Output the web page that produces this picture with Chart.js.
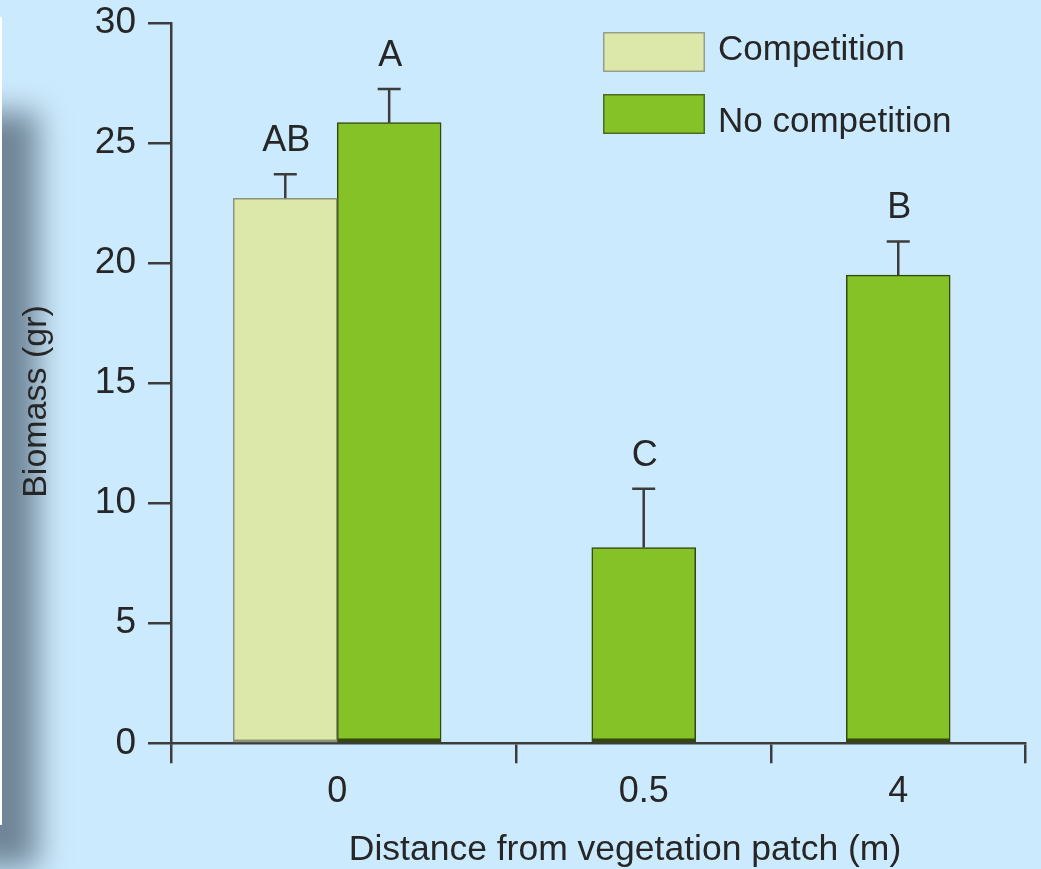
<!DOCTYPE html>
<html>
<head>
<meta charset="utf-8">
<title>Biomass by distance from vegetation patch</title>
<script src="https://cdn.jsdelivr.net/npm/chart.js@4.4.1/dist/chart.umd.min.js"></script>
<style>
  html, body { margin: 0; padding: 0; background: #cceafd; overflow: hidden; }
  #wrap { position: relative; width: 1041px; height: 869px; }
  .shade { position: absolute; left: -80px; top: 112px; width: 118px; height: 755px; background: #6f8597; filter: blur(15px); }
  .panel { position: absolute; left: -20px; top: 17px; width: 22px; height: 808px; background: #ffffff; }
  #chart { position: absolute; left: 0; top: 0; }
</style>
</head>
<body>
<div id="wrap">
  <div class="shade"></div>
  <div class="panel"></div>
  <canvas id="chart" width="1041" height="869"></canvas>
</div>
<script>
// ---- data ----
const categories = ['0', '0.5', '4'];
const competition = [22.7, null, null];
const competitionErr = [1.0, null, null];
const competitionLetters = ['AB', null, null];
const noCompetition = [25.85, 8.15, 19.5];
const noCompetitionErr = [1.4, 2.45, 1.4];
const noCompetitionLetters = ['A', 'C', 'B'];
const yTicks = [0, 5, 10, 15, 20, 25, 30];

// ---- look ----
const FONT = "'Liberation Sans', Arial, Helvetica, sans-serif";
const TEXT = '#262626';
const AXIS = '#3c3c3c';
const seriesStyle = [
  { fill: '#dce8a9', edge: '#8e927a' },
  { fill: '#84c227', edge: '#34470f' }
];

// ---- x layout, in bar widths ----
const EDGE_L = 0.6, GAP = 1.45, EDGE_R = 0.72;
const seriesValues = [competition, noCompetition];
const seriesErr = [competitionErr, noCompetitionErr];
const seriesLetters = [competitionLetters, noCompetitionLetters];
const seriesNames = ['Competition', 'No competition'];

const groupSizes = categories.map((_, i) => seriesValues.filter(s => s[i] != null).length);
const groupStart = [];
let cursor = 0;
groupSizes.forEach(n => { groupStart.push(cursor); cursor += n + GAP; });
const xMin = -EDGE_L;
const xMax = cursor - GAP + EDGE_R;
const groupCenters = groupStart.map((s, i) => s + groupSizes[i] / 2);
const boundaries = [xMin];
for (let i = 1; i < groupStart.length; i++) boundaries.push(groupStart[i] - GAP / 2);
boundaries.push(xMax);

function seriesPoints(si) {
  const pts = [];
  categories.forEach((_, i) => {
    if (seriesValues[si][i] == null) return;
    let slot = 0;
    for (let k = 0; k < si; k++) if (seriesValues[k][i] != null) slot++;
    pts.push({ x: groupStart[i] + slot + 0.5, y: seriesValues[si][i], err: seriesErr[si][i], letter: seriesLetters[si][i] });
  });
  return pts;
}

const datasets = seriesNames.map((name, si) => ({
  label: name,
  data: seriesPoints(si),
  backgroundColor: seriesStyle[si].fill,
  borderColor: seriesStyle[si].edge,
  borderWidth: si === 0 ? { left: 1.5, right: 1.5, top: 1.5, bottom: 3 } : { left: 1.5, right: 1.5, top: 1.5, bottom: 4 },
  borderSkipped: false,
  grouped: false,
  barPercentage: 1,
  categoryPercentage: 1,
  xAxisID: 'x',
  yAxisID: 'y'
}));

// error bars and significance letters
const errorBars = {
  id: 'errorBars',
  afterDatasetsDraw(chart) {
    const ctx = chart.ctx;
    const yScale = chart.scales.y;
    ctx.save();
    chart.data.datasets.forEach((ds, di) => {
      const meta = chart.getDatasetMeta(di);
      meta.data.forEach((bar, j) => {
        const p = ds.data[j];
        const top = yScale.getPixelForValue(p.y + p.err);
        ctx.strokeStyle = AXIS;
        ctx.lineWidth = 2.5;
        ctx.beginPath();
        ctx.moveTo(bar.x, bar.y);
        ctx.lineTo(bar.x, top);
        ctx.moveTo(bar.x - 11.5, top);
        ctx.lineTo(bar.x + 11.5, top);
        ctx.stroke();
        if (p.letter) {
          ctx.fillStyle = TEXT;
          ctx.font = '36px ' + FONT;
          ctx.textAlign = 'center';
          ctx.textBaseline = 'alphabetic';
          ctx.fillText(p.letter, bar.x + 1, top - 23);
        }
      });
    });
    ctx.restore();
  }
};

// legend in the upper right of the plot
const legendBox = {
  id: 'legendBox',
  afterDraw(chart) {
    const ctx = chart.ctx;
    const area = chart.chartArea;
    const lx = area.left + 432, ly = area.top + 9;
    ctx.save();
    chart.data.datasets.forEach((ds, i) => {
      const by = ly + i * 62;
      ctx.fillStyle = ds.backgroundColor;
      ctx.fillRect(lx, by, 102, 40);
      ctx.strokeStyle = i === 0 ? '#9a9c86' : '#4d6b1c';
      ctx.lineWidth = 1.5;
      ctx.strokeRect(lx + 0.75, by + 0.75, 100.5, 38.5);
      ctx.fillStyle = TEXT;
      ctx.font = '35px ' + FONT;
      ctx.textAlign = 'left';
      ctx.textBaseline = 'alphabetic';
      ctx.fillText(ds.label, lx + 115, by + 28 + i * 10);
    });
    ctx.restore();
  }
};

// axis titles
const axisTitles = {
  id: 'axisTitles',
  afterDraw(chart) {
    const ctx = chart.ctx;
    ctx.save();
    ctx.fillStyle = TEXT;
    ctx.textAlign = 'center';
    ctx.textBaseline = 'alphabetic';
    ctx.font = '35.5px ' + FONT;
    ctx.fillText('Distance from vegetation patch (m)', 625, 859.5);
    ctx.translate(45.5, 401.5);
    ctx.rotate(-Math.PI / 2);
    ctx.font = '34px ' + FONT;
    ctx.fillText('Biomass (gr)', 0, 0);
    ctx.restore();
  }
};

// keep the plot area fixed: tick labels may overhang it
const noOverhang = s => { s.paddingTop = 0; s.paddingBottom = 0; s.paddingLeft = 0; s.paddingRight = 0; };

new Chart(document.getElementById('chart'), {
  type: 'bar',
  data: { datasets },
  options: {
    responsive: false,
    animation: false,
    layout: { padding: { top: 23, right: 16, left: 0, bottom: 0 } },
    plugins: { legend: { display: false }, tooltip: { enabled: false } },
    scales: {
      x: {
        type: 'linear',
        position: 'bottom',
        offset: false,
        bounds: 'data',
        min: xMin,
        max: xMax,
        weight: 0,
        afterBuildTicks: s => { s.ticks = boundaries.map(v => ({ value: v })); },
        ticks: { display: false },
        grid: { offset: false, drawOnChartArea: false, drawTicks: true, tickLength: 20, color: AXIS, lineWidth: 2.5 },
        border: { display: true, color: AXIS, width: 2.5 },
        afterFit: s => { s.height = 20; noOverhang(s); }
      },
      xl: {
        type: 'linear',
        position: 'bottom',
        offset: false,
        bounds: 'data',
        min: xMin,
        max: xMax,
        weight: 1,
        afterBuildTicks: s => { s.ticks = groupCenters.map(v => ({ value: v })); },
        ticks: {
          callback: (v, i) => categories[i],
          autoSkip: false,
          maxRotation: 0,
          padding: 7,
          color: TEXT,
          font: { family: FONT, size: 36 }
        },
        grid: { display: false, drawTicks: false, offset: false },
        border: { display: false },
        afterFit: s => { s.height = 105.7; noOverhang(s); }
      },
      y: {
        type: 'linear',
        min: yTicks[0],
        max: yTicks[yTicks.length - 1],
        afterBuildTicks: s => { s.ticks = yTicks.map(v => ({ value: v })); },
        ticks: { padding: 12, color: TEXT, font: { family: FONT, size: 37 } },
        grid: { drawOnChartArea: false, drawTicks: true, tickLength: 23, color: AXIS, lineWidth: 2.5 },
        border: { display: true, color: AXIS, width: 2.5 },
        afterFit: s => { s.width = 171; noOverhang(s); }
      }
    }
  },
  plugins: [errorBars, legendBox, axisTitles]
});
</script>
</body>
</html>
